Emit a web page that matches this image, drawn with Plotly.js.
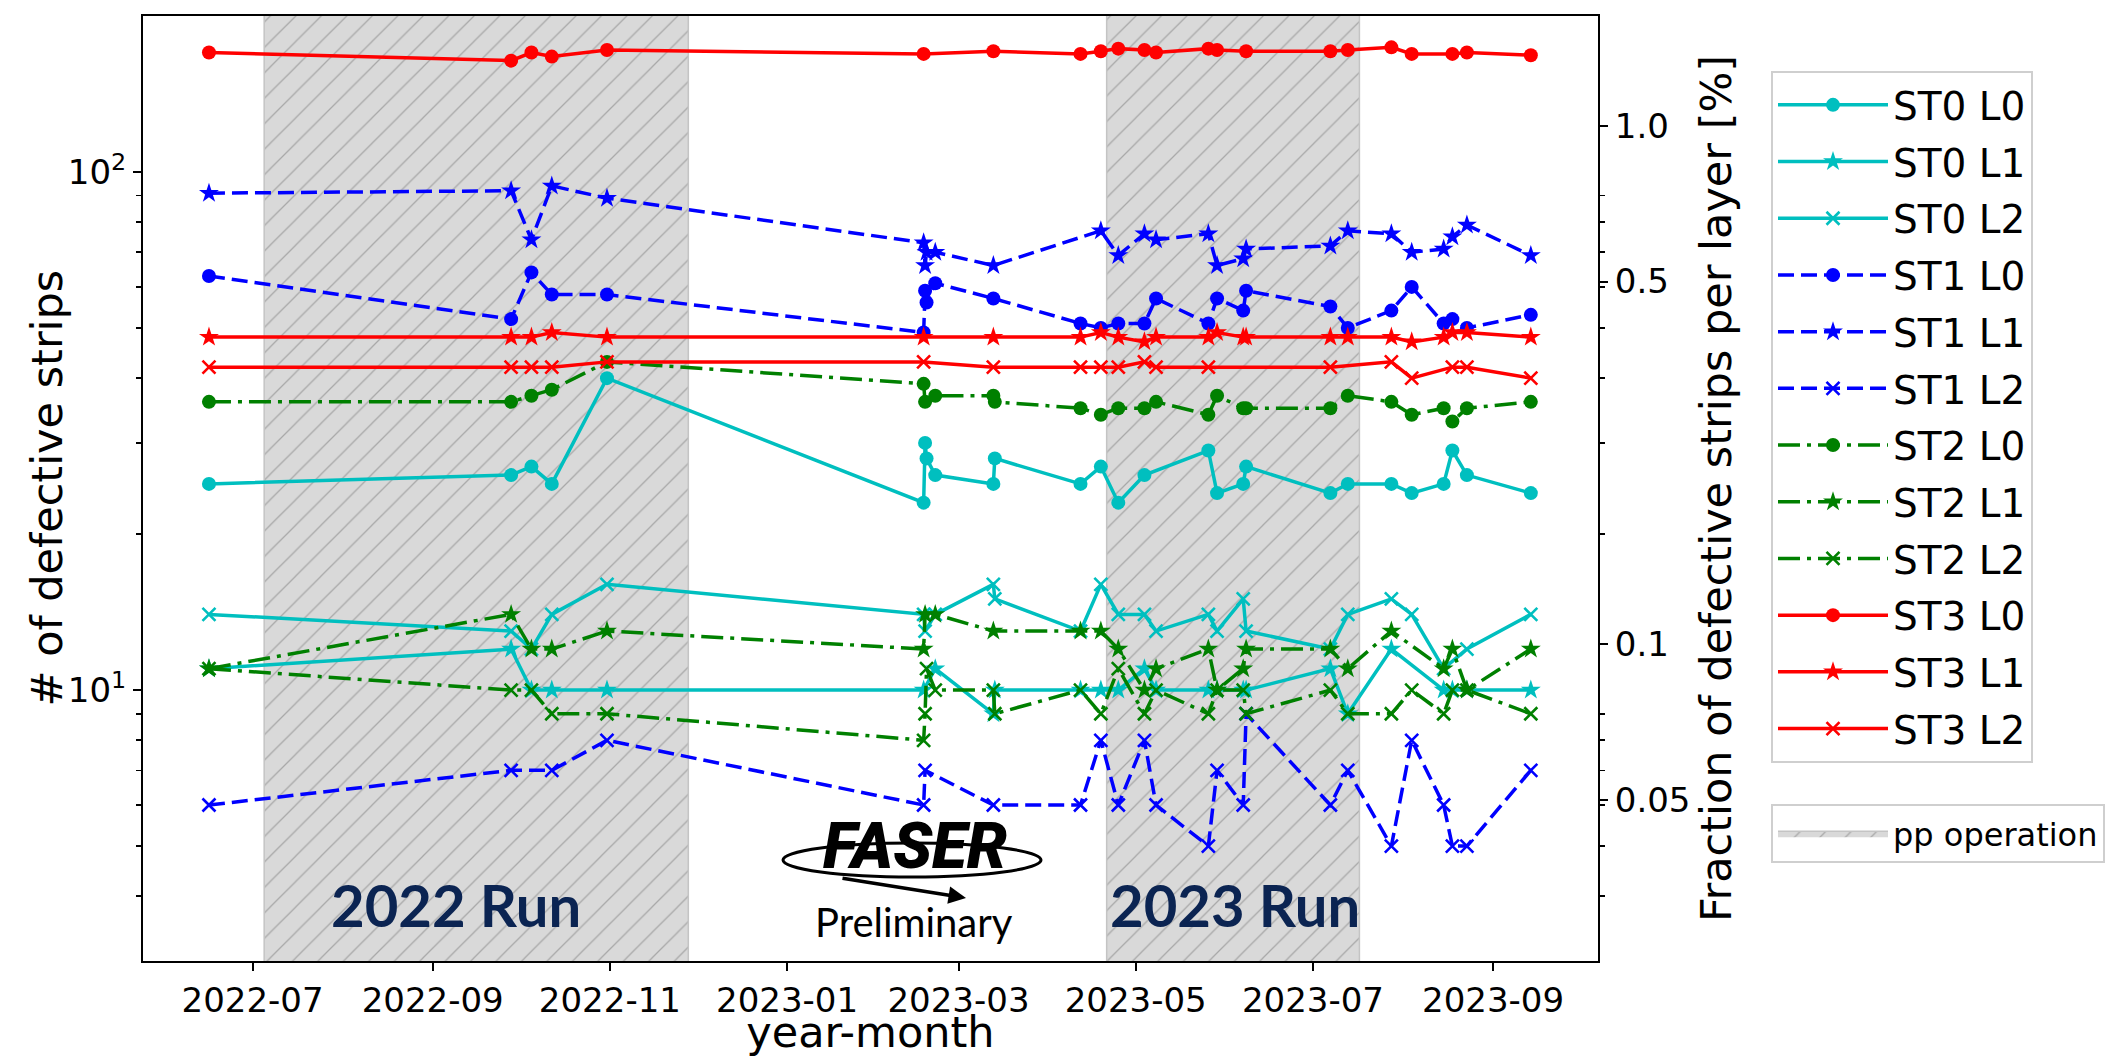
<!DOCTYPE html>
<html><head><meta charset="utf-8">
<script src="https://cdn.plot.ly/plotly-3.0.1.min.js"></script>
<style>body{margin:0;background:#fff}</style>
</head><body><div id="chart" style="width:2108px;height:1057px"></div>
<script>
// ---- data ----
const dates = ['2022-06-16','2022-09-28','2022-10-05','2022-10-12','2022-10-31',
  '2023-02-17 00:00','2023-02-17 12:00','2023-02-18 00:00','2023-02-21',
  '2023-03-13 00:00','2023-03-13 12:00','2023-04-12','2023-04-19','2023-04-25',
  '2023-05-04','2023-05-08','2023-05-26','2023-05-29','2023-06-07','2023-06-08',
  '2023-07-07','2023-07-13','2023-07-28','2023-08-04','2023-08-15','2023-08-18',
  '2023-08-23','2023-09-14'];
const st0_l0 = [25,26,27,25,40, 23,30,28,26, 25,28, 25,27,23,26,null, 29,24,25,27, 24,25,25,24,25,29,26,24];
const st0_l1 = [11,12,10,10,10, 10,null,null,11, 9,10, 10,10,10,11,10, 10,10,10,10, 11,9,12,null,10,10,10,10];
const st0_l2 = [14,13,12,14,16, 14,13,null,14, 16,15, 13,16,14,14,13, 14,13,15,13, 12,14,15,14,11,null,12,14];
const st1_l0 = [63,52,64,58,58, 49,59,56,61, 57,null, 51,50,51,51,57, 51,57,54,59, 55,50,54,60,51,52,50,53];
const st1_l1 = [91,92,74,94,89, 73,66,70,70, 66,null, null,77,69,76,74, 76,66,68,71, 72,77,76,70,71,75,79,69];
const st1_l2 = [6,7,null,7,8, 6,7,null,null, 6,null, 6,8,6,8,6, 5,7,6,9, 6,7,5,8,6,5,5,7];
const st2_l0 = [36,36,37,38,43, 39,36,null,37, 37,36, 35,34,35,35,36, 34,37,35,35, 35,37,36,34,35,33,35,36];
const st2_l1 = [11,14,12,12,13, 12,14,null,14, 13,null, 13,13,12,10,11, 12,10,11,12, 12,11,13,null,11,12,10,12];
const st2_l2 = [11,10,10,9,9, 8,9,11,10, 10,9, 10,9,11,9,10, 9,10,10,9, 10,9,9,10,9,10,10,9];
const st3_l0 = [170,164,170,167,172, 169,null,null,null, 171,null, 169,171,173,172,170, 173,172,null,171, 171,172,174,169,null,169,170,168];
const st3_l1 = [48,48,48,49,48, 48,null,null,null, 48,null, 48,49,48,47,48, 48,49,48,48, 48,48,48,47,48,49,49,48];
const st3_l2 = [42,42,42,42,43, 43,null,null,null, 42,null, 42,42,42,43,42, 42,null,null,null, 42,null,43,40,null,42,42,40];
const seriesNames = ['ST0 L0','ST0 L1','ST0 L2','ST1 L0','ST1 L1','ST1 L2','ST2 L0','ST2 L1','ST2 L2','ST3 L0','ST3 L1','ST3 L2'];
const seriesValues = [st0_l0,st0_l1,st0_l2,st1_l0,st1_l1,st1_l2,st2_l0,st2_l1,st2_l2,st3_l0,st3_l1,st3_l2];
const ppStart = ['2022-07-05','2023-04-21'];
const ppEnd = ['2022-11-28','2023-07-17'];
const stripsPerLayer = 12288;
const fracTicks = [0.05, 0.1, 0.5, 1.0];
const fracTickText = ['0.05','0.1','0.5','1.0'];
const leftTicks = [10, 100];
const leftTickText = ['10<sup>1</sup>','10<sup>2</sup>'];
const minorTicks = [4,5,6,7,8,9,20,30,40,50,60,70,80,90];

// ---- styles ----
const stationColor = ['#00bfbf','#0000ff','#008000','#ff0000'];
const stationDash = ['solid','16px,7px','22px,7px,4px,7px','solid'];
const layerSymbol = ['circle','star','x-thin'];
const layerSize = [14,15,13];
const FONT = 'DejaVu Sans, sans-serif';

const traces = [];
// pp operation shading
ppStart.forEach((s,i)=>{
  traces.push({
    type:'scatter', mode:'lines', x:[s, ppEnd[i], ppEnd[i], s, s], y:[1,1,1000,1000,1],
    fill:'toself', fillcolor:'#d9d9d9',
    fillpattern:{shape:'/', bgcolor:'#d9d9d9', fgcolor:'#a8a8a8', size:18, solidity:0.07},
    line:{color:'#c4c4c4', width:1.5}, name:'pp operation', legend:'legend2',
    showlegend: i===0, hoverinfo:'skip'
  });
});
seriesNames.forEach((nm,k)=>{
  const st = Math.floor(k/3), ly = k%3;
  const col = stationColor[st];
  traces.push({
    type:'scatter', mode:'lines+markers', name:nm, x:dates, y:seriesValues[k],
    connectgaps:true, legendgroup:'g'+k,
    line:{color:col, width:3.5, dash:stationDash[st]},
    marker:{symbol:layerSymbol[ly], size:layerSize[ly], color:col,
      line:{color:col, width: ly===2 ? 2.6 : 0}}
  });
});
// empty trace to activate right axis
traces.push({type:'scatter', x:[], y:[], yaxis:'y2', showlegend:false, hoverinfo:'skip'});

const W=2108, H=1057, L=143, R=1598, T=16, B=961;
const px = X => (X-L)/(R-L);
const py = Y => (B-Y)/(B-T);
const yRange = [Math.log10(3), Math.log10(200)];

const layout = {
  width:W, height:H, paper_bgcolor:'#fff', plot_bgcolor:'#fff',
  margin:{l:L, r:W-R, t:T, b:H-B, pad:0, autoexpand:false},
  font:{family:FONT, size:34, color:'#000'},
  showlegend:true,
  xaxis:{type:'date', range:['2022-05-24 07:00','2023-10-07 03:00'],
    tick0:'2022-07-01', dtick:'M2', tickformat:'%Y-%m',
    ticks:'outside', ticklen:8, tickwidth:2, tickcolor:'#000',
    showline:true, linecolor:'#000', linewidth:2, mirror:true, showgrid:false, zeroline:false,
    tickfont:{family:FONT, size:34},
    title:{text:'year-month', font:{family:FONT, size:43}, standoff:21}},
  yaxis:{type:'log', range:yRange, tickmode:'array', tickvals:leftTicks, ticktext:leftTickText,
    ticks:'outside', ticklen:8, tickwidth:2, tickcolor:'#000',
    minor:{tickmode:'array', tickvals:minorTicks, ticks:'outside', ticklen:5, tickwidth:1.6, tickcolor:'#000', showgrid:false},
    showline:true, linecolor:'#000', linewidth:2, showgrid:false, zeroline:false,
    tickfont:{family:FONT, size:34}},
  yaxis2:{type:'log', range:yRange, overlaying:'y', side:'right', tickmode:'array',
    tickvals:fracTicks.map(f=>f/100*stripsPerLayer), ticktext:fracTickText,
    ticks:'outside', ticklen:8, tickwidth:2, tickcolor:'#000',
    minor:{tickmode:'array', tickvals:minorTicks, ticks:'outside', ticklen:5, tickwidth:1.6, tickcolor:'#000', showgrid:false},
    showline:true, linecolor:'#000', linewidth:2, showgrid:false, zeroline:false,
    tickfont:{family:FONT, size:34},
    title:{text:'Fraction of defective strips per layer [%]', font:{family:FONT, size:43}, standoff:10}},
  legend:{x:px(1771), y:py(71), xanchor:'left', yanchor:'top', bgcolor:'#fff',
    bordercolor:'#cfcfcf', borderwidth:2, font:{family:FONT, size:39}, tracegroupgap:3, itemwidth:110},
  legend2:{x:px(1771), y:py(804), xanchor:'left', yanchor:'top', bgcolor:'#fff',
    bordercolor:'#cfcfcf', borderwidth:2, font:{family:FONT, size:32}, itemwidth:110},
  shapes:[
    {type:'circle', xref:'paper', yref:'paper', x0:px(783), x1:px(1041), y0:py(877), y1:py(843),
     line:{color:'#000', width:3}, layer:'above'}
  ],
  annotations:[
    {xref:'paper', yref:'paper', x:px(46), y:0.5, xanchor:'center', yanchor:'middle', textangle:-90,
     text:'# of defective strips', showarrow:false, font:{family:FONT, size:43, color:'#000'}},
    {xref:'paper', yref:'paper', x:px(456), y:py(904), xanchor:'center', yanchor:'middle',
     text:'<b>2022 Run</b>', showarrow:false,
     font:{family:'Lato, Open Sans, sans-serif', size:58, color:'#0b2452'}},
    {xref:'paper', yref:'paper', x:px(1235), y:py(904), xanchor:'center', yanchor:'middle',
     text:'<b>2023 Run</b>', showarrow:false,
     font:{family:'Lato, Open Sans, sans-serif', size:58, color:'#0b2452'}},
    {xref:'paper', yref:'paper', x:px(914), y:py(922), xanchor:'center', yanchor:'middle',
     text:'Preliminary', showarrow:false,
     font:{family:'Lato, Open Sans, sans-serif', size:40, color:'#000'}},
    {xref:'paper', yref:'paper', x:px(915), y:py(846), xanchor:'center', yanchor:'middle',
     text:'FASER', showarrow:false,
     font:{family:'Roboto, sans-serif', size:64, color:'#000', weight:900, style:'italic'}},
    {xref:'paper', yref:'paper', x:px(966), y:py(898), xanchor:'center', yanchor:'middle',
     text:'', showarrow:true,
     ax:-125, ay:-20, arrowhead:2, arrowsize:1, arrowwidth:3.5, arrowcolor:'#000'}
  ]
};
Plotly.newPlot('chart', traces, layout, {displayModeBar:false, staticPlot:true});
</script></body></html>
